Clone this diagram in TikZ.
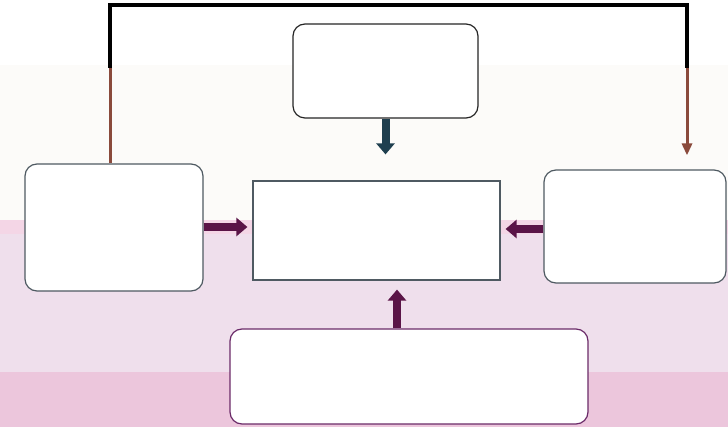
\documentclass[tikz,border=0pt]{standalone}
\usetikzlibrary{arrows.meta}
\definecolor{bgwhite}{HTML}{FFFFFF}
\definecolor{bgcream}{HTML}{FCFBF9}
\definecolor{bgstripe}{HTML}{F4D6E6}
\definecolor{bglav}{HTML}{EFDFEC}
\definecolor{bgpink}{HTML}{ECC6DC}
\definecolor{boxline}{HTML}{4F5A62}
\definecolor{boxlinep}{HTML}{6A2A68}
\definecolor{arrdark}{HTML}{5A1447}
\definecolor{arrtop}{HTML}{1F3F4F}
\definecolor{thinbrown}{HTML}{8A4A3C}
\tikzset{
  boxr/.style={draw=boxline, fill=white, line width=1.2pt, rounded corners=12pt, inner sep=0pt},
  boxs/.style={draw=boxline, fill=white, line width=1.2pt, inner sep=0pt},
  bigarrow/.style={line width=8pt, -{Triangle[width=18pt,length=11pt]}},
  thinline/.style={line width=3pt}
}
\begin{document}
\begin{tikzpicture}[x=1pt,y=-1pt]
\useasboundingbox (0,0) rectangle (728,427);
% background bands
\fill[bgwhite] (0,0) rectangle (728,65);
\fill[bgcream] (0,65) rectangle (728,220);
\fill[bgstripe] (0,220) rectangle (728,234);
\fill[bglav] (0,234) rectangle (728,372);
\fill[bgpink] (0,372) rectangle (728,427);
% boxes
\node[boxr, draw=black!85, minimum width=185pt, minimum height=94pt] (topbox) at (385.5,71) {};
\node[boxr, minimum width=178pt, minimum height=127pt] (leftbox) at (114,227.5) {};
\node[boxs, minimum width=247pt, minimum height=99pt] (centerbox) at (376.5,230.5) {};
\node[boxr, minimum width=182pt, minimum height=113pt] (rightbox) at (635,226.5) {};
\node[boxr, draw=boxlinep, minimum width=358pt, minimum height=95pt] (bottombox) at (409,376.5) {};
% thin feedback connector
\coordinate (jl) at (110,68);
\coordinate (jr) at (687,68);
\draw[thinline, thinbrown] ([xshift=-4pt]leftbox.north) -- (jl);
\draw[thinline, black, line width=4pt] (jl) -- (110,5) -| (jr);
\draw[thinline, thinbrown, -{Triangle[width=10pt,length=12pt]}, shorten >=14pt] (jr) -- (jr |- rightbox.north);
% thick arrows
\draw[bigarrow, arrtop, shorten >=26pt] (topbox.south) -- (topbox.south |- centerbox.north);
\draw[bigarrow, arrdark, shorten >=5pt] (leftbox.east |- 0,227) -- (centerbox.west |- 0,227);
\draw[bigarrow, arrdark, shorten >=5pt] (rightbox.west |- 0,229) -- (centerbox.east |- 0,229);
\draw[bigarrow, arrdark, shorten >=9pt] ([xshift=-12pt]bottombox.north) -- ([xshift=-12pt]bottombox.north |- centerbox.south);
\end{tikzpicture}
\end{document}
